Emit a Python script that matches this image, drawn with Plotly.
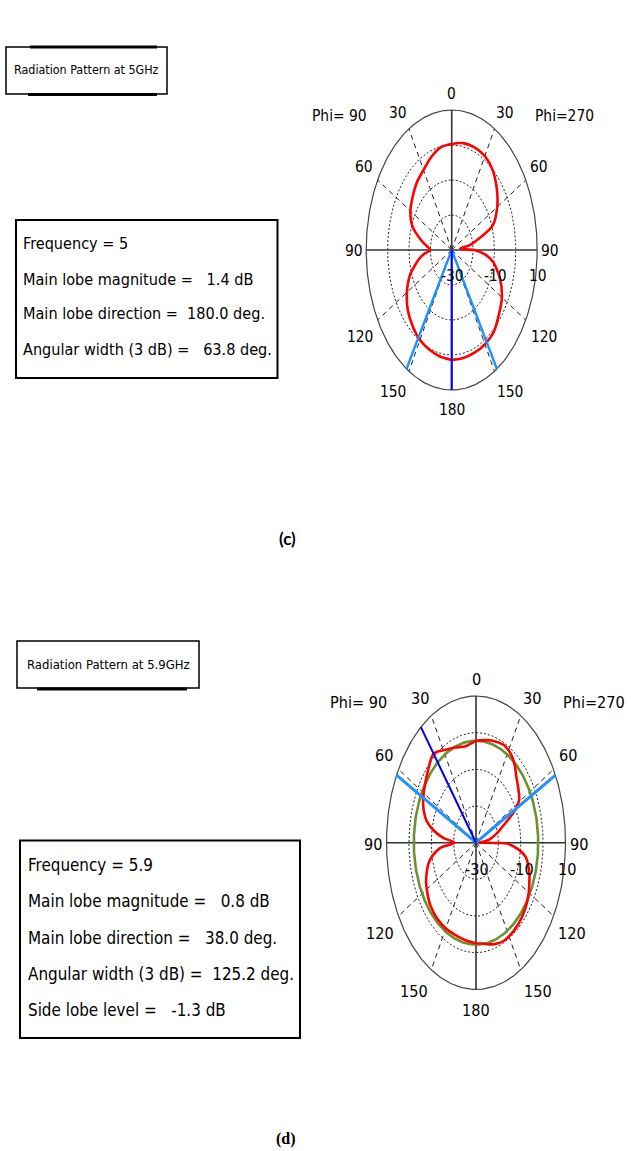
import numpy as np
import plotly.graph_objects as go

W, H = 631, 1151

# ---------------- Farfield gain, Phi=90 cut, 5 GHz (dB) ----------------
THETA_5 = [0, 10, 20, 30, 40, 50, 60, 70, 80, 85, 90, 95, 100, 110, 120, 130, 140, 150, 160, 170, 180]
GAIN_5_PHI90 = [0.3, -0.2, -1.8, -3.6, -4.7, -6.2, -7.7, -10.5, -16.0, -18.5, -20.0, -17.0, -14.3,
                -9.3, -5.8, -3.2, -1.6, -0.3, 0.3, 0.9, 1.4]
GAIN_5_PHI270 = [0.3, 1.0, 1.2, 1.0, -0.2, -2.5, -5.4, -9.6, -21.0, -26.0, -19.5, -14.0, -10.3,
                 -5.9, -2.9, -1.2, 0.6, 1.1, 1.2, 1.3, 1.4]
FREQ_5 = 5
MAIN_LOBE_5 = 1.4
MAIN_DIR_5 = 180.0
WIDTH_5 = 63.8

# ---------------- Farfield gain, Phi=90 cut, 5.9 GHz (dB) ----------------
THETA_59_PHI90 = [0, 10, 20, 30, 35, 38, 42, 48, 55, 60, 65, 70, 75, 80, 85, 90, 95, 100, 105,
                  110, 115, 120, 130, 140, 150, 160, 170, 180]
GAIN_59_PHI90 = [-2.3, -3.3, -2.4, -0.9, 0.3, 0.8, 0.3, -1.0, -2.2, -3.0, -3.9, -5.2, -7.2, -10.8,
                 -15.5, -20.5, -14.0, -10.5, -8.0, -6.6, -5.4, -4.6, -3.4, -3.0, -3.0, -3.2, -3.0, -2.6]
THETA_59_PHI270 = [0, 10, 15, 20, 25, 30, 35, 40, 45, 52, 59, 64, 68, 75, 82, 88, 90, 91, 95, 100,
                   105, 110, 115, 120, 125, 130, 140, 150, 155, 160, 165, 170, 175, 180]
GAIN_59_PHI270 = [-2.3, -1.6, -1.2, -0.9, -0.6, -0.9, -1.6, -2.9, -4.5, -6.0, -7.5, -11.5, -16.0,
                  -20.5, -24.0, -28.0, -29.0, -16.0, -11.5, -7.4, -5.8, -4.6, -3.7, -2.8, -2.1, -1.5,
                  -0.8, -0.5, -0.5, -0.8, -1.3, -1.9, -2.4, -2.6]
FREQ_59 = 5.9
MAIN_LOBE_59 = 0.8
MAIN_DIR_59 = 38.0
WIDTH_59 = 125.2
SIDE_LOBE_59 = -1.3
EDGE_59_PHI90 = 62.6          # -3 dB edge on the Phi=90 side; the rest of the width lies on Phi=270

# ---------------- polar grid ----------------
DB_MIN, DB_MAX = -30, 10
RING_LEVELS = [-20, -10, 0]
RADIAL_TICKS = [-30, -10, 10]
ANGLE_TICKS = [0, 30, 60, 90, 120, 150, 180]
SPOKES = [30, 60, 120, 150]

FONT = "DejaVu Sans Condensed, Liberation Sans Narrow, sans-serif"
RED = "#ff0000"
GREEN = "#6b9130"
DARK_BLUE = "#0000ee"
LIGHT_BLUE = "#1e90ff"
GRID = "#222222"


def norm_r(db):
    return (np.asarray(db, float) - DB_MIN) / (DB_MAX - DB_MIN)


def to_xy(theta, db, side):
    """side = -1 for the Phi=90 half (left), +1 for the Phi=270 half (right)."""
    t = np.radians(np.asarray(theta, float))
    r = norm_r(db)
    return side * r * np.sin(t), r * np.cos(t)


fig = go.Figure()

panels = [
    dict(xa="x", ya="y", cx=451.7, cy=250.0, rx=85.5, ry=140.0, xr=(-2.0, 2.0), yr=(-1.3, 1.3), k=1.0),
    dict(xa="x2", ya="y2", cx=476.0, cy=842.7, rx=89.5, ry=146.7, xr=(-1.9, 1.7), yr=(-1.3, 1.3), k=1.047),
]

annotations = []
shapes = []


def add_line(p, x, y, color, width, dash="solid", shape="linear", smoothing=1.0):
    fig.add_trace(go.Scatter(
        x=x, y=y, mode="lines", xaxis=p["xa"], yaxis=p["ya"], hoverinfo="skip", showlegend=False,
        line=dict(color=color, width=width, dash=dash, shape=shape, smoothing=smoothing)))


def grid(p):
    a = np.linspace(0, 2 * np.pi, 361)
    for lvl in RING_LEVELS:
        r = norm_r(lvl)
        add_line(p, r * np.sin(a), r * np.cos(a), GRID, 1, dash="2px,2px")
    for ang in SPOKES:
        for side in (-1, 1):
            x, y = to_xy([0, ang], [DB_MIN, DB_MAX], side)
            add_line(p, x, y, GRID, 1, dash="5px,4px")
    add_line(p, np.sin(a), np.cos(a), "#444444", 1.2)
    add_line(p, [0, 0], [-1, 1], "#333333", 1.6)
    add_line(p, [-1, 1], [0, 0], "#333333", 1.6)


def labels(p):
    k = p["k"]
    xa, ya = p["xa"], p["ya"]
    fs = 15.4 * k
    offs = {0: (0, 15.5), 30: (11, 16), 60: (13.5, 13), 90: (12.5, -1.5),
            120: (18, -17), 150: (16, -20.5), 180: (0, -20)}
    for ang in ANGLE_TICKS:
        sides = (-1, 1) if ang not in (0, 180) else (1,)
        for side in sides:
            x, y = to_xy([ang], [DB_MAX], side)
            dx, dy = offs[ang]
            annotations.append(dict(x=float(x[0]), y=float(y[0]), xref=xa, yref=ya, text=str(ang),
                                    showarrow=False, xshift=side * dx * k, yshift=dy * k,
                                    font=dict(family=FONT, size=fs, color="black")))
    for db in RADIAL_TICKS:
        annotations.append(dict(x=float(norm_r(db)), y=0, xref=xa, yref=ya, text=str(db),
                                showarrow=False, xshift=1, yshift=-26 * k,
                                font=dict(family=FONT, size=fs, color="black")))
    annotations.append(dict(x=-1.31, y=0.955, xref=xa, yref=ya, text="Phi=\u00a090", showarrow=False,
                            font=dict(family=FONT, size=fs, color="black")))
    annotations.append(dict(x=1.32, y=0.955, xref=xa, yref=ya, text="Phi=270", showarrow=False,
                            font=dict(family=FONT, size=fs, color="black")))
    annotations.append(dict(x=0, y=1.595, xref=xa, yref=ya, text="Farfield Gain Abs (Phi=90)",
                            showarrow=False, font=dict(family=FONT, size=15.8 * k, color="black")))
    annotations.append(dict(x=0, y=-1.607, xref=xa, yref=ya, text="Theta / Degree vs. dB",
                            showarrow=False, font=dict(family=FONT, size=15.8 * k, color="black")))


def pattern(p, th90, g90, th270, g270):
    x1, y1 = to_xy(th90, g90, -1)
    x2, y2 = to_xy(th270[::-1], g270[::-1], 1)
    add_line(p, np.concatenate([x1, x2]), np.concatenate([y1, y2]), RED, 2.6, shape="spline", smoothing=0.7)


def ray(p, theta, side, color, width):
    x, y = to_xy([0, theta], [DB_MIN, DB_MAX], side)
    add_line(p, x, y, color, width)


# ---- 5 GHz panel ----
p = panels[0]
grid(p)
pattern(p, THETA_5, GAIN_5_PHI90, THETA_5, GAIN_5_PHI270)
half = WIDTH_5 / 2
ray(p, MAIN_DIR_5 - half, -1, LIGHT_BLUE, 2.4)
ray(p, MAIN_DIR_5 - half, 1, LIGHT_BLUE, 2.4)
ray(p, MAIN_DIR_5, 1, DARK_BLUE, 2)
labels(p)

# ---- 5.9 GHz panel ----
p = panels[1]
grid(p)
a = np.linspace(0, 2 * np.pi, 361)
r3 = norm_r(MAIN_LOBE_59 - 3.0)
add_line(p, r3 * np.sin(a), r3 * np.cos(a), GREEN, 2.6)
pattern(p, THETA_59_PHI90, GAIN_59_PHI90, THETA_59_PHI270, GAIN_59_PHI270)
ray(p, EDGE_59_PHI90, -1, LIGHT_BLUE, 3)
ray(p, WIDTH_59 - EDGE_59_PHI90, 1, LIGHT_BLUE, 3)
ray(p, MAIN_DIR_59, -1, DARK_BLUE, 2)
labels(p)


# ---- axes placement ----
def px_x(X):
    return X / W


def px_y(Y):
    return 1 - Y / H


layout_axes = {}
for i, p in enumerate(panels):
    sfx = "" if i == 0 else str(i + 1)
    x0 = p["cx"] + p["xr"][0] * p["rx"]
    x1 = p["cx"] + p["xr"][1] * p["rx"]
    yb = p["cy"] - p["yr"][0] * p["ry"]
    yt = p["cy"] - p["yr"][1] * p["ry"]
    common = dict(visible=False, showgrid=False, zeroline=False, fixedrange=True)
    layout_axes["xaxis" + sfx] = dict(domain=[px_x(x0), px_x(x1)], range=list(p["xr"]),
                                      anchor="y" + sfx, **common)
    layout_axes["yaxis" + sfx] = dict(domain=[px_y(yb), px_y(yt)], range=list(p["yr"]),
                                      anchor="x" + sfx, **common)


# ---- text boxes ----
def rect(x0, y0, x1, y1, w):
    shapes.append(dict(type="rect", xref="paper", yref="paper", x0=px_x(x0), x1=px_x(x1),
                       y0=px_y(y1), y1=px_y(y0), line=dict(color="black", width=w)))


def hline(x0, x1, y, w):
    shapes.append(dict(type="line", xref="paper", yref="paper", x0=px_x(x0), x1=px_x(x1),
                       y0=px_y(y), y1=px_y(y), line=dict(color="black", width=w)))


def text(X, Y, s, size, anchor="left", family=FONT):
    annotations.append(dict(x=px_x(X), y=px_y(Y), xref="paper", yref="paper", text=s, showarrow=False,
                            xanchor=anchor, yanchor="middle", font=dict(family=family, size=size, color="black")))


NB = "\u00a0"

# header boxes
rect(6, 47, 167, 94, 1.5)
hline(30, 157, 47, 3)
hline(28, 157, 94.5, 3)
text(86.5, 69, "Radiation Pattern at " + f"{FREQ_5}GHz", 12.4, "center")

rect(17, 641, 199, 688, 1.5)
hline(37, 187, 689, 3)
text(108, 664, "Radiation Pattern at " + f"{FREQ_59}GHz", 13.0, "center")

# result boxes
rect(16, 220, 277.5, 378, 2)
lines_5 = [f"Frequency = {FREQ_5}",
           f"Main lobe magnitude ={NB * 3}{MAIN_LOBE_5:.1f} dB",
           f"Main lobe direction ={NB * 2}{MAIN_DIR_5:.1f} deg.",
           f"Angular width (3 dB) ={NB * 3}{WIDTH_5:.1f} deg."]
for i, s in enumerate(lines_5):
    text(20.5, 244 + 35 * i, s, 16.1)

rect(20, 840.5, 300, 1038, 2)
lines_59 = [f"Frequency = {FREQ_59}",
            f"Main lobe magnitude ={NB * 3}{MAIN_LOBE_59:.1f} dB",
            f"Main lobe direction ={NB * 3}{MAIN_DIR_59:.1f} deg.",
            f"Angular width (3 dB) ={NB * 2}{WIDTH_59:.1f} deg.",
            f"Side lobe level ={NB * 3}{SIDE_LOBE_59:.1f} dB"]
for i, s in enumerate(lines_59):
    text(26, 865 + 36.3 * i, s, 16.9)

# panel captions
text(287.5, 538, "<b>(c)</b>", 17, "center", family="Lato, Open Sans, sans-serif")
text(286, 1139, "<b>(d)</b>", 16, "center", family="Liberation Serif, DejaVu Serif, serif")

fig.update_layout(
    width=W, height=H, margin=dict(l=0, r=0, t=0, b=0),
    paper_bgcolor="white", plot_bgcolor="rgba(0,0,0,0)",
    showlegend=False, annotations=annotations, shapes=shapes, **layout_axes)

fig.write_html("out.html")
